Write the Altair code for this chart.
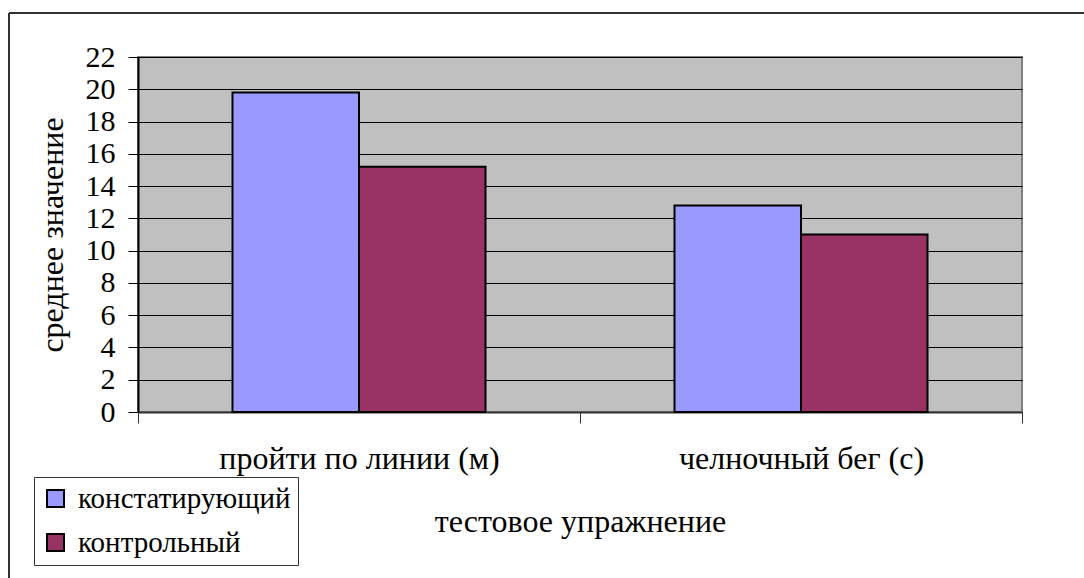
import altair as alt
import pandas as pd

# Test exercises and the two groups compared
tests = ["пройти по линии (м)", "челночный бег (с)"]
groups = ["констатирующий", "контрольный"]
values_const = [19.8, 12.8]
values_ctrl = [15.2, 11.0]
y_ticks = list(range(0, 23, 2))
colors = ["#9999FF", "#993366"]

rows = []
for t, a, b in zip(tests, values_const, values_ctrl):
    rows.append({"test": t, "group": groups[0], "value": a})
    rows.append({"test": t, "group": groups[1], "value": b})
df = pd.DataFrame(rows)

FONT = "Liberation Serif"

bars = alt.Chart(df).mark_bar(stroke="black", strokeWidth=2).encode(
    x=alt.X(
        "test:N",
        sort=tests,
        scale=alt.Scale(paddingInner=0, paddingOuter=0),
        axis=alt.Axis(
            title="тестовое упражнение",
            labelAngle=0,
            tickBand="extent",
            tickSize=11,
            tickColor="#333333",
            domainColor="#333333",
            domainWidth=2,
            labelPadding=20,
            labelFontSize=32,
            labelFont=FONT,
            labelColor="black",
            labelLimit=600,
            titleFont=FONT,
            titleFontSize=32,
            titleFontWeight="normal",
            titleColor="black",
            titleY=109,
            titleBaseline="middle",
        ),
    ),
    xOffset=alt.XOffset(
        "group:N",
        sort=groups,
        scale=alt.Scale(paddingInner=0, paddingOuter=0.747),
    ),
    y=alt.Y(
        "value:Q",
        scale=alt.Scale(domain=[0, 22], nice=False),
        axis=alt.Axis(
            title="среднее значение",
            values=y_ticks,
            grid=True,
            gridColor="black",
            gridWidth=1,
            tickSize=10,
            tickColor="black",
            domainColor="black",
            domainWidth=2,
            labelPadding=13,
            labelFontSize=30,
            labelFont=FONT,
            labelColor="black",
            titleFont=FONT,
            titleFontSize=32,
            titleFontWeight="normal",
            titleColor="black",
            titleX=-86,
            titleBaseline="middle",
        ),
    ),
    color=alt.Color(
        "group:N",
        sort=groups,
        scale=alt.Scale(domain=groups, range=colors),
        legend=alt.Legend(
            title=None,
            orient="none",
            legendX=-104,
            legendY=420,
            symbolType="square",
            symbolSize=289,
            symbolStrokeColor="black",
            symbolStrokeWidth=2,
            symbolOpacity=1,
            labelFont=FONT,
            labelFontSize=29,
            labelColor="black",
            labelOffset=8,
            rowPadding=14,
            padding=7,
            strokeColor="#333333",
            fillColor="white",
            labelLimit=400,
        ),
    ),
)

# Outer frame lines of the chart area
frame_left = alt.Chart(df).mark_rule(color="#333333", strokeWidth=2).encode(
    x=alt.value(-129), y=alt.value(-44), y2=alt.value(560)
)
frame_top = alt.Chart(df).mark_rule(color="#333333", strokeWidth=2).encode(
    x=alt.value(-129), x2=alt.value(960), y=alt.value(-44)
)

chart = (
    alt.layer(bars, frame_left, frame_top)
    .properties(
        width=884,
        height=355,
        padding={"left": 138, "top": 57, "right": 62, "bottom": 166},
        autosize=alt.AutoSizeParams(type="none"),
        background="white",
    )
    .configure_view(fill="#C0C0C0", stroke="#808080", strokeWidth=2)
)

chart.save("out.html", embed_options={"renderer": "svg", "actions": False})
